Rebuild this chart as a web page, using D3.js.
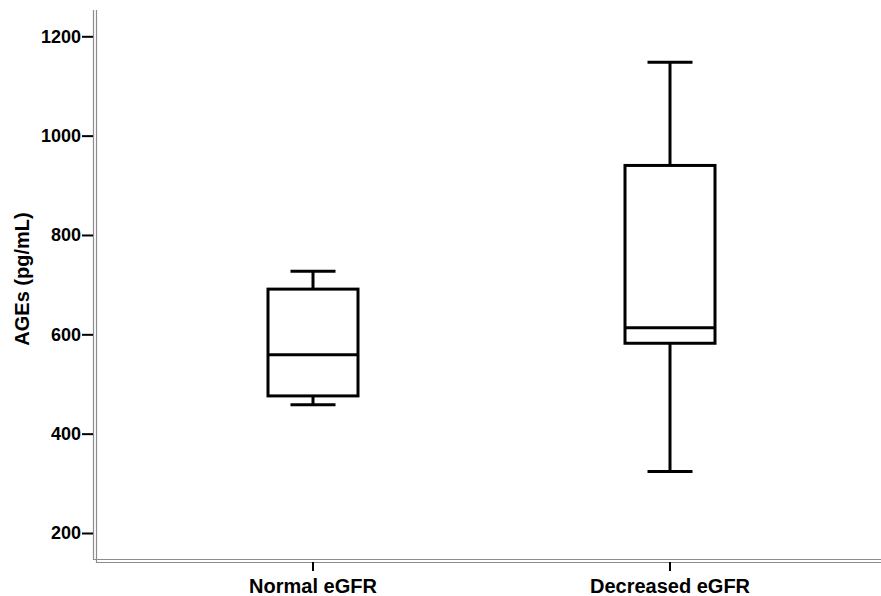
<!DOCTYPE html>
<html>
<head>
<meta charset="utf-8">
<script src="https://cdn.jsdelivr.net/npm/d3@7"></script>
<style>
  body { margin: 0; background: #fff; }
  svg { display: block; font-family: "Liberation Sans", Arial, sans-serif; }
</style>
</head>
<body>
<div id="viz"></div>
<script>
const categories = ['Normal eGFR', 'Decreased eGFR'];
const whiskerLow = [458, 324];
const q1 = [476, 582];
const medians = [559, 613];
const q3 = [691, 940];
const whiskerHigh = [727, 1148];
const yTicks = [200, 400, 600, 800, 1000, 1200];

function buildChart(containerId) {
    const width = 881;
    const height = 596;

    const svg = d3.select(containerId)
        .append('svg')
        .attr('width', width)
        .attr('height', height);

    const y = d3.scaleLinear()
        .domain([200, 1200])
        .range([533, 36.3]);

    const x = d3.scaleBand()
        .domain(categories)
        .range([134.5, 848.5]);

    const boxWidth = 90;
    const capWidth = 45;

    // frame (double grey lines left and bottom)
    const frame = svg.append('g').attr('stroke', '#8c8c8c').attr('stroke-width', 1.2).attr('fill', 'none');
    frame.append('path').attr('d', 'M93.5,10 V559.5 H881');
    frame.append('path').attr('d', 'M96.5,10 V562.5 H881');

    // y axis
    const yAxis = d3.axisLeft(y)
        .tickValues(yTicks)
        .tickFormat(d3.format('d'))
        .tickSize(11)
        .tickPadding(1);

    const yg = svg.append('g')
        .attr('transform', 'translate(93,0)')
        .call(yAxis);
    yg.select('.domain').remove();
    yg.selectAll('.tick line').attr('stroke', '#000').attr('stroke-width', 2);
    yg.selectAll('.tick text')
        .attr('fill', '#000')
        .attr('font-size', 18)
        .attr('font-weight', 'bold')
        .attr('font-family', '"Liberation Sans", Arial, sans-serif');

    // x axis
    const xAxis = d3.axisBottom(x)
        .tickSize(9)
        .tickPadding(8);

    const xg = svg.append('g')
        .attr('transform', 'translate(0,562)')
        .call(xAxis);
    xg.select('.domain').remove();
    xg.selectAll('.tick line').attr('stroke', '#000').attr('stroke-width', 2);
    xg.selectAll('.tick text')
        .attr('fill', '#000')
        .attr('font-size', 20)
        .attr('font-weight', 'bold')
        .attr('font-family', '"Liberation Sans", Arial, sans-serif');

    // y label
    svg.append('text')
        .attr('transform', 'translate(29,279) rotate(-90)')
        .attr('text-anchor', 'middle')
        .attr('font-size', 20)
        .attr('font-weight', 'bold')
        .text('AGEs (pg/mL)');

    const data = categories.map((c, i) => ({
        cat: c,
        lo: whiskerLow[i],
        q1: q1[i],
        med: medians[i],
        q3: q3[i],
        hi: whiskerHigh[i]
    }));

    const boxes = svg.selectAll('.box')
        .data(data)
        .enter()
        .append('g')
        .attr('class', 'box')
        .attr('transform', d => `translate(${x(d.cat) + x.bandwidth() / 2},0)`)
        .attr('stroke', '#000')
        .attr('stroke-width', 3);

    // whiskers
    boxes.append('line')
        .attr('x1', 0).attr('x2', 0)
        .attr('y1', d => y(d.hi)).attr('y2', d => y(d.q3));
    boxes.append('line')
        .attr('x1', 0).attr('x2', 0)
        .attr('y1', d => y(d.q1)).attr('y2', d => y(d.lo));

    // caps
    boxes.append('line')
        .attr('x1', -capWidth / 2).attr('x2', capWidth / 2)
        .attr('y1', d => y(d.hi)).attr('y2', d => y(d.hi));
    boxes.append('line')
        .attr('x1', -capWidth / 2).attr('x2', capWidth / 2)
        .attr('y1', d => y(d.lo)).attr('y2', d => y(d.lo));

    // box
    boxes.append('rect')
        .attr('x', -boxWidth / 2)
        .attr('width', boxWidth)
        .attr('y', d => y(d.q3))
        .attr('height', d => y(d.q1) - y(d.q3))
        .attr('fill', '#fff');

    // median
    boxes.append('line')
        .attr('x1', -boxWidth / 2).attr('x2', boxWidth / 2)
        .attr('y1', d => y(d.med)).attr('y2', d => y(d.med));
}

buildChart('#viz');
</script>
</body>
</html>
